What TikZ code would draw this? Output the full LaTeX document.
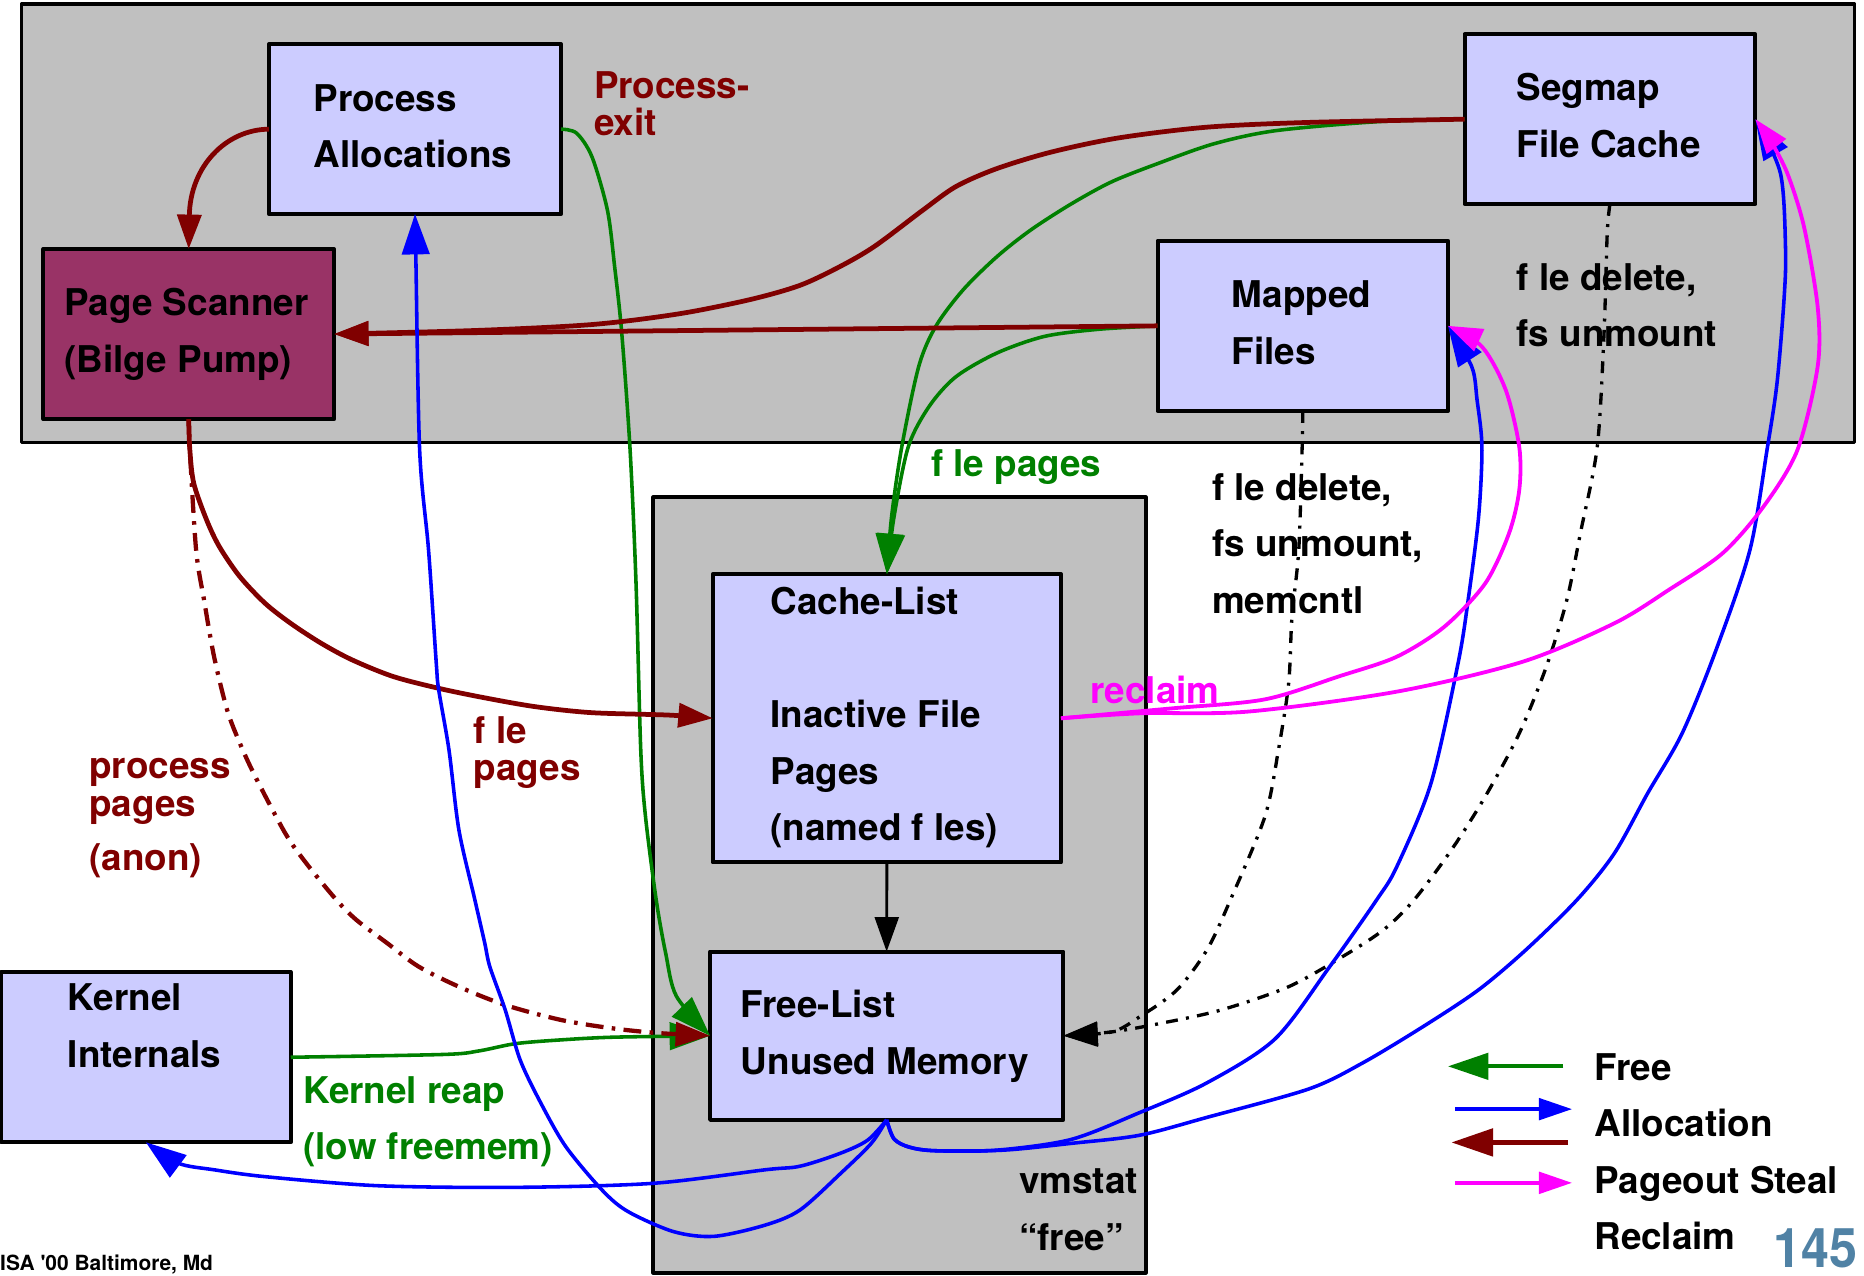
\documentclass[tikz,border=0pt]{standalone}
\usepackage{fontspec}
\setmainfont{TeX Gyre Heros}
\usepackage{graphicx}
\usetikzlibrary{arrows.meta}

\definecolor{panelgray}{HTML}{C0C0C0}
\definecolor{boxblue}{HTML}{CCCCFF}
\definecolor{scanner}{HTML}{993366}
\definecolor{darkred}{HTML}{800000}
\definecolor{freegreen}{HTML}{008000}
\definecolor{allocblue}{HTML}{0000FF}
\definecolor{reclaimpink}{HTML}{FF00FF}
\definecolor{slidenum}{RGB}{80,130,165}

% invisible strut fixing the top of every text block
\newcommand\lnstrut{\rule{0pt}{23pt}}

\tikzset{
  panel/.style={draw=black, line width=3pt, fill=panelgray, inner sep=0pt, outer sep=0pt},
  membox/.style={draw=black, line width=3.4pt, fill=boxblue, inner sep=0pt, outer sep=0pt},
  boxtext/.style={anchor=north west, inner sep=0pt, align=left,
    font=\fontsize{31}{47.5}\selectfont\bfseries},
  tipS/.style={-{Triangle[length=29pt,width=20pt]}},
  tipL/.style={-{Triangle[length=34pt,width=23pt]}},
  stealline/.style={draw=darkred, line width=4pt, tipS},
  stealdash/.style={draw=darkred, line width=3.6pt, dash pattern=on 15pt off 7pt on 3pt off 7pt, tipS},
  freeline/.style={draw=freegreen, line width=3pt, tipL},
  allocline/.style={draw=allocblue, line width=3pt, tipL},
  reclaimline/.style={draw=reclaimpink, line width=3.2pt, tipS},
  deletedash/.style={draw=black, line width=2.8pt, dash pattern=on 10pt off 7pt on 2.5pt off 7pt, tipS},
}

\begin{document}
\begin{tikzpicture}[x=1pt, y=-1pt, line join=round]
\useasboundingbox (0,0) rectangle (1568,1073);

% grey panels
\node[panel, minimum width=1542pt, minimum height=369pt] (upper) at (789,187.9) {};
\node[panel, minimum width=414.6pt, minimum height=652.3pt] (lower) at (756.7,744.45) {};

% memory boxes
\node[membox, minimum width=245.8pt, minimum height=142.7pt] (pa) at (349.1,108.65) {};
\node[membox, fill=scanner, minimum width=244.5pt, minimum height=143pt] (ps) at (158.75,281) {};
\node[membox, minimum width=244.6pt, minimum height=142.7pt] (seg) at (1354.3,100.25) {};
\node[membox, minimum width=244.2pt, minimum height=143.2pt] (mf) at (1095.9,274.1) {};
\node[membox, minimum width=243.75pt, minimum height=143.1pt] (ki) at (122.7,889.35) {};
\node[membox, minimum width=292.9pt, minimum height=242.4pt] (cl) at (746.05,604.2) {};
\node[membox, minimum width=297.1pt, minimum height=141.5pt] (fl) at (745.85,871.25) {};

% box captions
\node[boxtext] (patext) at (263.5,70.5) {\lnstrut Process\\Allocations};
\node[boxtext] (pstext) at (54,242.5) {\lnstrut Page Scanner\\(Bilge Pump)};
\node[boxtext] (segtext) at (1275.5,61.5) {\lnstrut Segmap\\File Cache};
\node[boxtext] (mftext) at (1036,235.5) {\lnstrut Mapped\\Files};
\node[boxtext] (kitext) at (57,827) {\lnstrut Kernel\\Internals};
\node[boxtext] (cltext) at (648,494) {\lnstrut Cache-List\\[47.5pt]Inactive File\\Pages\\(named f les)};
\node[boxtext] (fltext) at (623,833) {\lnstrut Free-List\\Unused Memory};

% connector labels
\node[boxtext, text=darkred] (exitlbl) at (499.5,59.5) {\lnstrut Process-\\[-16.5pt]exit};
\node[boxtext, text=darkred] (anonlbl) at (75,631.7) {\lnstrut process\\[-15.5pt]pages\\[-2.5pt](anon)};
\node[boxtext, text=darkred] (filelbl) at (398.5,602.3) {\lnstrut f le\\[-16.5pt]pages};
\node[boxtext, text=freegreen] (fpglbl) at (783,378) {\lnstrut f le pages};
\node[boxtext] (dellbl) at (1275.5,221) {\lnstrut f le delete,\\fs unmount};
\node[boxtext] (memlbl) at (1019.5,397.6) {\lnstrut f le delete,\\fs unmount,\\memcntl};
\node[boxtext, text=reclaimpink] (reclbl) at (917,568.6) {\lnstrut reclaim};
\node[boxtext, text=freegreen] (reaplbl) at (255,905) {\lnstrut Kernel reap\\(low freemem)};
\node[boxtext] (vmlbl) at (857,980.8) {\lnstrut vmstat\\“free”};

% legend
\node[boxtext] (legend) at (1341,885.5) {\lnstrut Free\\Allocation\\Pageout Steal\\Reclaim};
\coordinate (lgfreeT) at (1315,897);   \coordinate (lgfreeH) at (1218,897);
\coordinate (lgallocT) at (1224,933);  \coordinate (lgallocH) at (1322.5,933);
\coordinate (lgstealT) at (1319,961);  \coordinate (lgstealH) at (1221,961);
\coordinate (lgreclT) at (1224,995);   \coordinate (lgreclH) at (1322.5,995);
\draw[draw=freegreen, line width=3.6pt, -{Triangle[length=34pt,width=22pt]}] (lgfreeT) -- (lgfreeH);
\draw[draw=allocblue, line width=3.4pt, -{Triangle[length=28pt,width=18pt]}] (lgallocT) -- (lgallocH);
\draw[draw=darkred, line width=3.6pt, -{Triangle[length=35pt,width=23pt]}] (lgstealT) -- (lgstealH);
\draw[draw=reclaimpink, line width=3.6pt, -{Triangle[length=28pt,width=18pt]}] (lgreclT) -- (lgreclH);

% page number and footer
\node[anchor=base east, inner sep=0pt, text=slidenum, font=\fontsize{46}{50}\selectfont\bfseries] (pagenum) at (1563,1066) {\scalebox{0.92}[1]{145}};
\node[anchor=base west, inner sep=0pt, font=\fontsize{17.6}{20}\selectfont\bfseries] (footer) at (0,1068.5) {ISA \textquotesingle00 Baltimore, Md};

% free paths (green)
\draw[freeline] plot[smooth, tension=0.5] coordinates {(ki.east) (373,887) (403,884) (433,878) (468,875) (515,872.5) (fl.west)};
\draw[freeline] plot[smooth, tension=0.5] coordinates {(pa.east) (485,112) (498,132) (511,177) (517,224) (523,280) (530,378) (535,490) (539,631) (543,687) (552,757) (560,802) (569,838) (fl.west)};
\draw[freeline] plot[smooth, tension=0.5] coordinates {(seg.west) (1158,102.4) (1072.5,110) (1021,121) (975.5,137) (935.4,152.8) (901,171.6) (867,193.5) (838.5,216) (810,244) (787,274.8) (772.8,308.4) (758.6,375.7) (750,434.6) (cl.north)};
\draw[freeline] plot[smooth, tension=0.5] coordinates {(mf.west) (924,277) (878.5,283) (838.5,297) (804,317) (781.5,342) (764,376) (752,435) (cl.north)};

% pageout steal paths (dark red)
\draw[stealline] (pa.west) .. controls (190,109) and (160,140) .. (ps.north);
\draw[stealline] plot[smooth, tension=0.5] coordinates {(seg.west) (1100,103) (1015,107) (941,116) (884,128) (838,142) (804,157) (776,177) (736,207) (707,224) (673,240) (631,252) (571,264) (498,273) (400,278) (ps.east)};
\draw[stealline] (mf.west) -- (ps.east);
\draw[stealline] plot[smooth, tension=0.5] coordinates {(ps.south) (159.7,378.5) (163,406.6) (173.8,437.4) (184.6,460) (201.7,485) (223,507.5) (244.6,524.4) (270,541) (296,555) (330.5,569) (369,579) (407.7,587) (450.6,594.5) (497.8,599.5) (562,601.5) (cl.west)};
\draw[stealdash] plot[smooth, tension=0.5] coordinates {(ps.south) (159.7,378.5) (165,463) (171.7,505) (180,552) (191,597) (201.7,625) (214.6,653) (240,701) (257.5,726) (283,757) (300,774) (326,793.6) (352,813) (386,830) (425,845.4) (472,858) (515,865) (553.6,869) (fl.west)};

% cache list drains into the free list
\draw[draw=black, line width=2.4pt, tipS] (cl.south) -- (fl.north);

% file delete paths (black dash-dot)
\draw[deletedash] plot[smooth, tension=0.5] coordinates {(mf.south) (1095.3,378.5) (1092.5,462.7) (1086.8,518.7) (1084,574.8) (1075.4,630.9) (1064,687) (1035,757) (1015.3,799) (989.7,833) (958.4,855.5) (935.4,868) (fl.east)};
\draw[deletedash] plot[smooth, tension=0.5] coordinates {(seg.south) (1352,196) (1349.3,280.4) (1343.6,375.8) (1329.4,448.6) (1318,504.7) (1300.8,560.7) (1278,616.9) (1249.4,670) (1221,714.8) (1189.5,757) (1164,782) (1129.5,804.6) (1084,830) (1026.8,849.7) (975.5,861) (935.4,868) (fl.east)};

% allocation paths (blue)
\draw[allocline] plot[smooth, tension=0.5] coordinates {(fl.south) (732.9,961.8) (707.2,987) (673,1017.8) (643.8,1030.5) (600.7,1040) (566.5,1036) (528,1019) (506.4,1001) (476,964.6) (455,928) (437.6,891.7) (425,849.6) (412,813) (407.7,793) (399,755) (386,698) (377.7,631) (369,580) (367,558) (360.5,462.7) (353,378.5) (349.8,216) (pa.south)};
\draw[allocline] plot[smooth, tension=0.5] coordinates {(fl.south) (730,959) (707.2,970) (673,981) (643.8,984) (549.3,995.4) (433.4,998.8) (317.6,997.4) (223,989.8) (180,984) (150,978.5) (ki.south)};
\draw[allocline] plot[smooth, tension=0.5] coordinates {(fl.south) (752,958) (765,965) (787,968) (838.5,967.5) (901,958.5) (958.4,936) (1015,911) (1072.5,874) (1118,813.9) (1158,757) (1175,729) (1203.7,659) (1226.5,558) (1235,504.7) (1243.8,434.6) (1246.6,376) (1242.5,336.5) (1238,308.4) (mf.east)};
\draw[allocline] plot[smooth, tension=0.5] coordinates {(fl.south) (752,958) (765,965) (787,968) (844,967.5) (901,961.8) (958.4,955) (1015,940) (1101,916) (1146.5,894) (1198,863) (1243.8,832.6) (1283.6,799) (1326.5,757) (1358,717.8) (1386,667.3) (1415,616.9) (1443.5,546.8) (1472,462.7) (1486.4,378.5) (1494.8,322.4) (1500.7,252) (1502,210) (1497.7,145.8) (seg.east)};

% reclaim paths (magenta)
\draw[reclaimline] plot[smooth, tension=0.5] coordinates {(cl.east) (986.7,595.8) (1064,588.3) (1126.8,568.8) (1175,552.4) (1215,527.2) (1249.4,490.7) (1269.4,448.6) (1278,412.2) (1278,376) (1266.6,328) (1246.6,291.6) (mf.east)};
\draw[reclaimline] plot[smooth, tension=0.5] coordinates {(cl.east) (960,600) (1049.7,598.6) (1175,581.8) (1281,556.6) (1358,524.3) (1403.6,496.3) (1449,465.4) (1483.4,426.2) (1512,378.5) (1529,308.4) (1529,258) (1517.5,190.7) (1503.5,145.8) (1489,117.8) (seg.east)};

\end{tikzpicture}
\end{document}
